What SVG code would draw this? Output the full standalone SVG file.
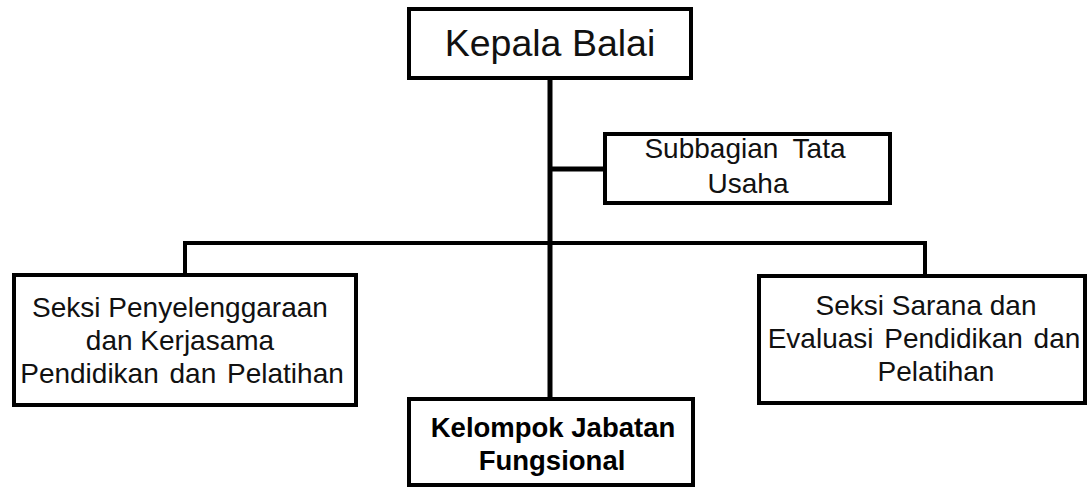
<svg xmlns="http://www.w3.org/2000/svg" width="1089" height="489" viewBox="0 0 1089 489">
<style>
.box{fill:#fff;stroke:#000;stroke-width:4}
.t{font-family:"Liberation Sans",Arial,sans-serif;font-size:28px;fill:#111;text-anchor:middle}
.b{font-weight:bold;font-size:27.5px;fill:#000}
.c{fill:none;stroke:#000;stroke-width:5}
.c2{fill:none;stroke:#000;stroke-width:4}
</style>
<rect width="1089" height="489" fill="#fff"/>
<g id="connectors">
<line class="c" x1="550" y1="78" x2="550" y2="399"/>
<line class="c" x1="550" y1="169" x2="605" y2="169"/>
<polyline class="c2" points="185,275 185,243 925,243 925,276"/>
</g>
<g id="kepala">
<rect class="box" x="409" y="9" width="282" height="69"/>
<text class="t" x="550" y="56" style="font-size:37.5px">Kepala Balai</text>
</g>
<g id="subbagian">
<rect class="box" x="605" y="134" width="285" height="69"/>
<text class="t" x="745" y="158" word-spacing="7">Subbagian Tata</text>
<text class="t" x="748" y="193">Usaha</text>
</g>
<g id="seksi1">
<rect class="box" x="14" y="275" width="342" height="130"/>
<text class="t" x="180" y="317">Seksi Penyelenggaraan</text>
<text class="t" x="180" y="350">dan Kerjasama</text>
<text class="t" x="182" y="383" word-spacing="3">Pendidikan dan Pelatihan</text>
</g>
<g id="seksi2">
<rect class="box" x="759" y="276" width="326" height="127"/>
<text class="t" x="926" y="315">Seksi Sarana dan</text>
<text class="t" x="924" y="348" word-spacing="3">Evaluasi Pendidikan dan</text>
<text class="t" x="936" y="381">Pelatihan</text>
</g>
<g id="kelompok">
<rect class="box" x="409" y="399" width="284" height="86"/>
<text class="t b" x="553" y="437">Kelompok Jabatan</text>
<text class="t b" x="552" y="470">Fungsional</text>
</g>
</svg>
